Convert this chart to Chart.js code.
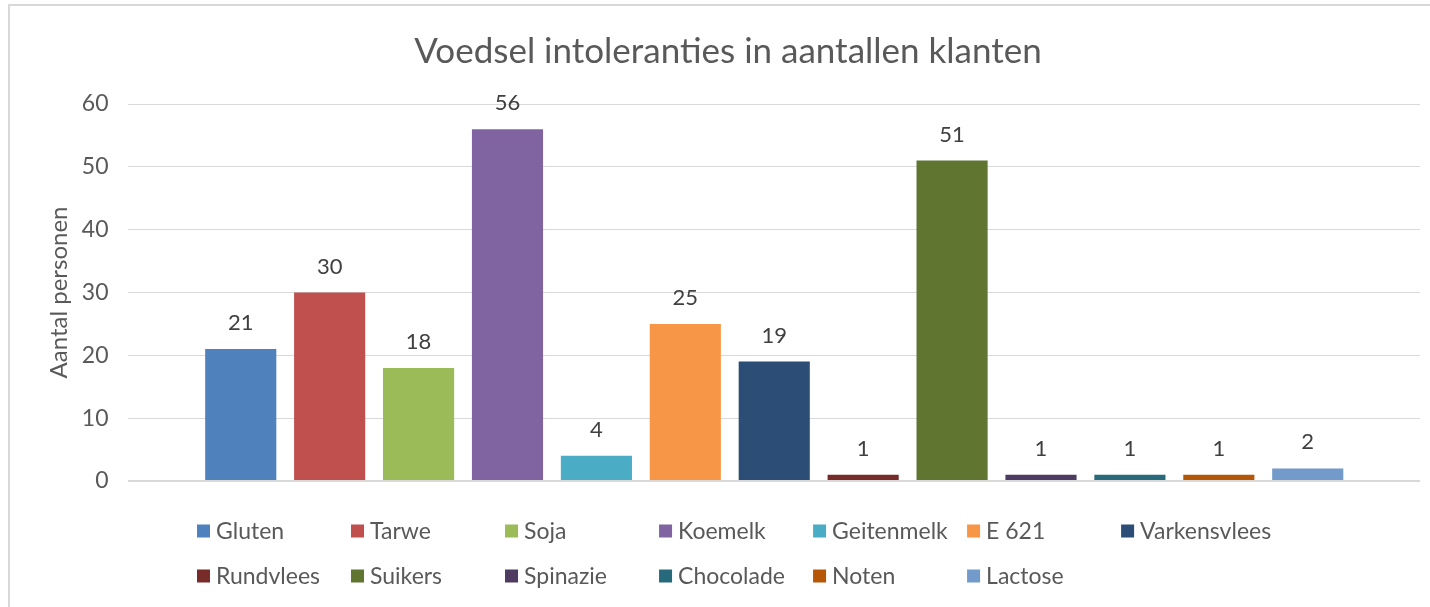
<!DOCTYPE html>
<html>
<head>
<meta charset="utf-8">
<script src="https://cdn.jsdelivr.net/npm/chart.js@4.4.1/dist/chart.umd.min.js"></script>
<style>
  html, body { margin: 0; padding: 0; background: #fff; }
  #wrap { width: 1430px; height: 607px; position: relative; }
</style>
</head>
<body>
<div id="wrap"><canvas id="intolChart" width="1430" height="607"></canvas></div>
<script>
  // data
  const categories = ['Gluten', 'Tarwe', 'Soja', 'Koemelk', 'Geitenmelk', 'E 621', 'Varkensvlees',
    'Rundvlees', 'Suikers', 'Spinazie', 'Chocolade', 'Noten', 'Lactose'];
  const counts = [21, 30, 18, 56, 4, 25, 19, 1, 51, 1, 1, 1, 2];
  const yTicks = [0, 10, 20, 30, 40, 50, 60];
  const colors = ['#4F81BD', '#C0504D', '#9BBB59', '#8064A2', '#4BACC6', '#F79646', '#2C4D75',
    '#772C2A', '#5F7530', '#4D3B62', '#276A7C', '#B65708', '#729ACA'];

  const FONT = 'Lato, "Open Sans", sans-serif';
  const textGrey = '#595959';

  // white background and the thin frame (top + left) of the Excel chart
  const framePlugin = {
    id: 'frame',
    beforeDraw(chart) {
      const ctx = chart.ctx;
      ctx.save();
      ctx.fillStyle = '#fff';
      ctx.fillRect(0, 0, chart.width, chart.height);
      ctx.fillStyle = '#d9d9d9';
      ctx.fillRect(8, 4, chart.width - 8, 2);
      ctx.fillRect(8, 4, 2, chart.height - 4);
      ctx.restore();
    }
  };

  // value labels above every bar
  const valueLabels = {
    id: 'valueLabels',
    afterDatasetsDraw(chart) {
      const ctx = chart.ctx;
      ctx.save();
      ctx.font = '22px ' + FONT;
      ctx.fillStyle = '#404040';
      ctx.textAlign = 'center';
      ctx.textBaseline = 'alphabetic';
      chart.data.datasets.forEach((ds, i) => {
        const meta = chart.getDatasetMeta(i);
        meta.data.forEach((bar, j) => {
          ctx.fillText(ds.data[j], bar.x, bar.y - 19);
        });
      });
      ctx.restore();
    }
  };

  // legend in a grid of 7 equal columns, like Excel does it
  const gridLegend = {
    id: 'gridLegend',
    afterDraw(chart) {
      const ctx = chart.ctx;
      const perRow = 7, box = 13, gap = 6;
      const rowY = [531, 576];
      ctx.save();
      ctx.font = '23px ' + FONT;
      let maxW = 0;
      chart.data.datasets.forEach(ds => { maxW = Math.max(maxW, ctx.measureText(ds.label).width); });
      const colW = box + gap + maxW + 4;
      const left = 197;
      ctx.textBaseline = 'middle';
      chart.data.datasets.forEach((ds, i) => {
        const x = left + (i % perRow) * colW;
        const y = rowY[Math.floor(i / perRow)];
        ctx.fillStyle = ds.backgroundColor;
        ctx.fillRect(x, y - box / 2, box, box);
        ctx.fillStyle = textGrey;
        ctx.fillText(ds.label, x + box + gap, y + 1);
      });
      ctx.restore();
    }
  };

  const ctx = document.getElementById('intolChart').getContext('2d');
  const intolChart = new Chart(ctx, {
    type: 'bar',
    data: {
      labels: [''],
      datasets: categories.map((name, i) => ({
        label: name,
        data: [counts[i]],
        backgroundColor: colors[i],
        barPercentage: 0.8,
        categoryPercentage: 0.895
      }))
    },
    options: {
      responsive: false,
      animation: false,
      layout: { padding: { left: 36, right: 10, top: 0, bottom: 118 } },
      plugins: {
        legend: { display: false },
        tooltip: { enabled: false },
        title: {
          display: true,
          text: 'Voedsel intoleranties in aantallen klanten',
          color: textGrey,
          font: { family: FONT, size: 35, weight: 'normal' },
          padding: { top: 31, bottom: 31 }
        }
      },
      scales: {
        x: {
          grid: { display: false },
          border: { display: false },
          ticks: { display: false }
        },
        y: {
          min: 0,
          max: 60,
          afterBuildTicks(axis) { axis.ticks = yTicks.map(v => ({ value: v })); },
          border: { display: false },
          grid: {
            color: '#d9d9d9',
            lineWidth: c => (c.tick && c.tick.value === 0 ? 2 : 1),
            drawTicks: false
          },
          ticks: {
            color: textGrey,
            font: { family: FONT, size: 23 },
            padding: 20
          },
          title: {
            display: true,
            text: 'Aantal personen',
            color: textGrey,
            font: { family: FONT, size: 24, lineHeight: 0.2 },
            padding: { top: 21, bottom: 0 }
          }
        }
      }
    },
    plugins: [framePlugin, valueLabels, gridLegend]
  });
</script>
</body>
</html>
